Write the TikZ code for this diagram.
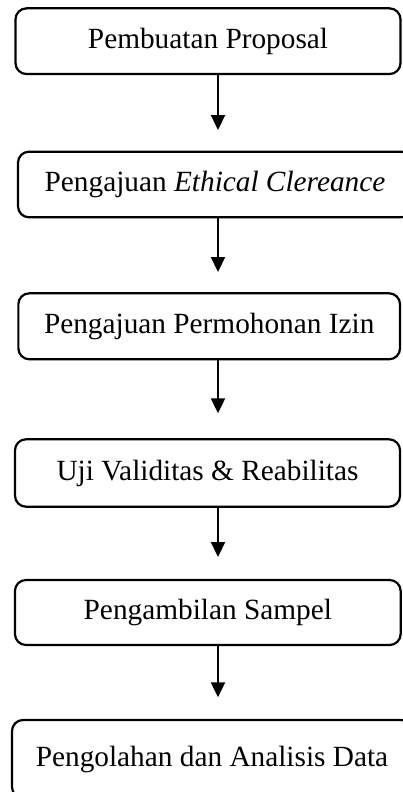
\documentclass[tikz,border=0pt]{standalone}
\usepackage{fontspec}
\setmainfont{Liberation Serif}
\usetikzlibrary{arrows.meta}
\begin{document}
\begin{tikzpicture}[x=1pt,y=1pt,
  box/.style={draw=black, line width=2.2pt, rounded corners=11pt, inner sep=0pt,
    font=\fontsize{29.3}{34}\selectfont},
  arr/.style={line width=2.2pt, -{Triangle[width=14pt,length=15pt]}}]
\useasboundingbox (0,0) rectangle (403,-792);
\clip (0,0) rectangle (403,-792);
\node[box, minimum width=385, minimum height=65.7] (b1) at (208,-41.2) {Pembuatan Proposal};
\node[box, minimum width=394, minimum height=65.6] (b2) at (215,-184.5) {Pengajuan \textit{Ethical Clereance}};
\node[box, minimum width=381.7, minimum height=66] (b3) at (209.2,-326.3) {Pengajuan Permohonan Izin};
\node[box, minimum width=385, minimum height=67.4] (b4) at (207.5,-473) {Uji Validitas \& Reabilitas};
\node[box, minimum width=385.7, minimum height=65] (b5) at (207.8,-612.5) {Pengambilan Sampel};
\node[box, minimum width=400, minimum height=78] (b6) at (212,-759) {Pengolahan dan Analisis Data};
\coordinate (a1) at (218,-130);
\coordinate (a2) at (218,-272);
\coordinate (a3) at (218,-413.3);
\coordinate (a4) at (218,-557);
\coordinate (a5) at (218,-697.3);
\draw[arr] (b1.south -| a1) -- (a1);
\draw[arr] (b2.south -| a2) -- (a2);
\draw[arr] (b3.south -| a3) -- (a3);
\draw[arr] (b4.south -| a4) -- (a4);
\draw[arr] (b5.south -| a5) -- (a5);
\end{tikzpicture}
\end{document}
